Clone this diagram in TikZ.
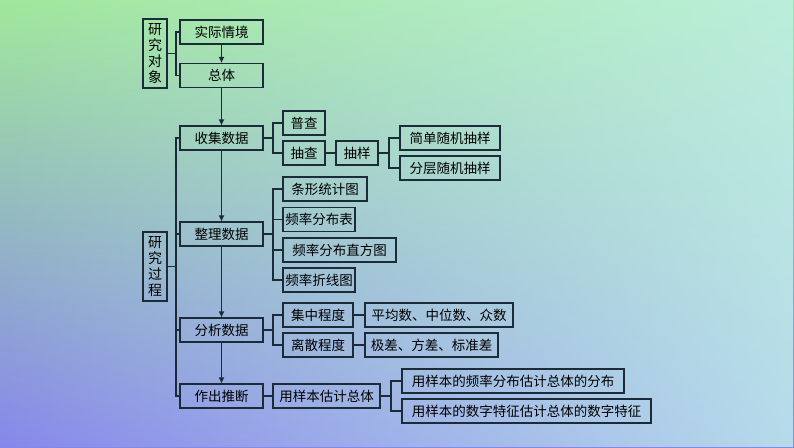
\documentclass[tikz,border=0pt]{standalone}
\usepackage{fontspec}
\setmainfont{Noto Sans CJK SC}
\usetikzlibrary{arrows.meta,fadings}
\definecolor{ln}{HTML}{1C2B38}
\tikzset{x=1pt,y=-1pt,
 bx/.style={draw=ln,line width=1.5pt,inner sep=0pt,minimum height=24pt,font=\fontsize{13.5}{15}\selectfont,text=black},
 vbx/.style={draw=ln,line width=1.5pt,inner sep=0pt,minimum width=24pt,minimum height=69pt,align=center,font=\fontsize{14}{16}\selectfont},
 cn/.style={draw=ln,line width=1.5pt},
 ar/.style={cn,-{Triangle[length=6pt,width=5pt]}}}
\begin{document}
\begin{tikzpicture}
\shade[top color={rgb,255:red,160;green,232;blue,155},bottom color={rgb,255:red,135;green,135;blue,235}] (0,0) rectangle (794,447);
\fill[color={rgb,255:red,195;green,240;blue,235},opacity=0.8,path fading=west] (0,0) rectangle (794,447);
\useasboundingbox (0,0) rectangle (794,447);
\node[vbx] (dx) at (155,53.5) {研\\究\\对\\象};
\node[bx,minimum width=83pt] (sj) at (221.5,32) {实际情境};
\node[bx,minimum width=83pt] (zt) at (221.5,75.5) {总体};
\node[bx,minimum width=83pt] (sd) at (221.5,138) {收集数据};
\node[bx,minimum width=42pt] (pc) at (304,123) {普查};
\node[bx,minimum width=42pt] (cc) at (304,153) {抽查};
\node[bx,minimum width=42pt] (cy) at (357,153) {抽样};
\node[bx,minimum width=100pt] (jd) at (450,138) {简单随机抽样};
\node[bx,minimum width=100pt] (fc) at (450,168) {分层随机抽样};
\node[vbx] (gc) at (155,266.5) {研\\究\\过\\程};
\node[bx,minimum width=84pt] (t1) at (325,189) {条形统计图};
\node[bx,minimum width=83pt] (zl) at (221.5,234) {整理数据};
\node[bx,minimum width=72pt] (t2) at (319,219.5) {频率分布表};
\node[bx,minimum width=113pt] (t3) at (339.5,250) {频率分布直方图};
\node[bx,minimum width=72pt] (t4) at (319,280) {频率折线图};
\node[bx,minimum width=83pt] (fx) at (221.5,330) {分析数据};
\node[bx,minimum width=70pt] (jz) at (318,315) {集中程度};
\node[bx,minimum width=148pt] (pj) at (439,315) {平均数、中位数、众数};
\node[bx,minimum width=70pt] (ls) at (318,345) {离散程度};
\node[bx,minimum width=133pt] (jc) at (431.5,345) {极差、方差、标准差};
\node[bx,minimum width=83pt] (zc) at (221.5,396) {作出推断};
\node[bx,minimum width=107pt] (yb) at (326.5,396) {用样本估计总体};
\node[bx,minimum width=222pt] (y1) at (513,381) {用样本的频率分布估计总体的分布};
\node[bx,minimum width=249pt] (y2) at (526.5,411) {用样本的数字特征估计总体的数字特征};
\draw[cn] (dx.east) -- (176,53.5);
\draw[cn] (sj.west) -| (176,53.5) |- (zt.west);
\draw[cn] (gc.east) -- (176,266.5);
\draw[cn] (sd.west) -| (176,266.5) |- (zc.west);
\draw[cn] (zl.west) -- (176,234);
\draw[cn] (fx.west) -- (176,330);
\draw[ar] (sj) -- (zt);
\draw[ar] (zt) -- (sd);
\draw[ar] (sd) -- (zl);
\draw[ar] (zl) -- (fx);
\draw[ar] (fx) -- (zc);
\draw[cn] (sd.east) -- (273,138);
\draw[cn] (pc.west) -| (273,138) |- (cc.west);
\draw[cn] (cc) -- (cy);
\draw[cn] (cy.east) -- (389,153);
\draw[cn] (jd.west) -| (389,153) |- (fc.west);
\draw[cn] (zl.east) -- (273,234);
\draw[cn] (t1.west) -| (273,234) |- (t4.west);
\draw[cn] (t2.west) -- (273,219.5);
\draw[cn] (t3.west) -- (273,250);
\draw[cn] (fx.east) -- (273,330);
\draw[cn] (jz.west) -| (273,330) |- (ls.west);
\draw[cn] (jz) -- (pj);
\draw[cn] (ls) -- (jc);
\draw[cn] (zc) -- (yb);
\draw[cn] (yb.east) -- (391,396);
\draw[cn] (y1.west) -| (391,396) |- (y2.west);
\end{tikzpicture}
\end{document}
